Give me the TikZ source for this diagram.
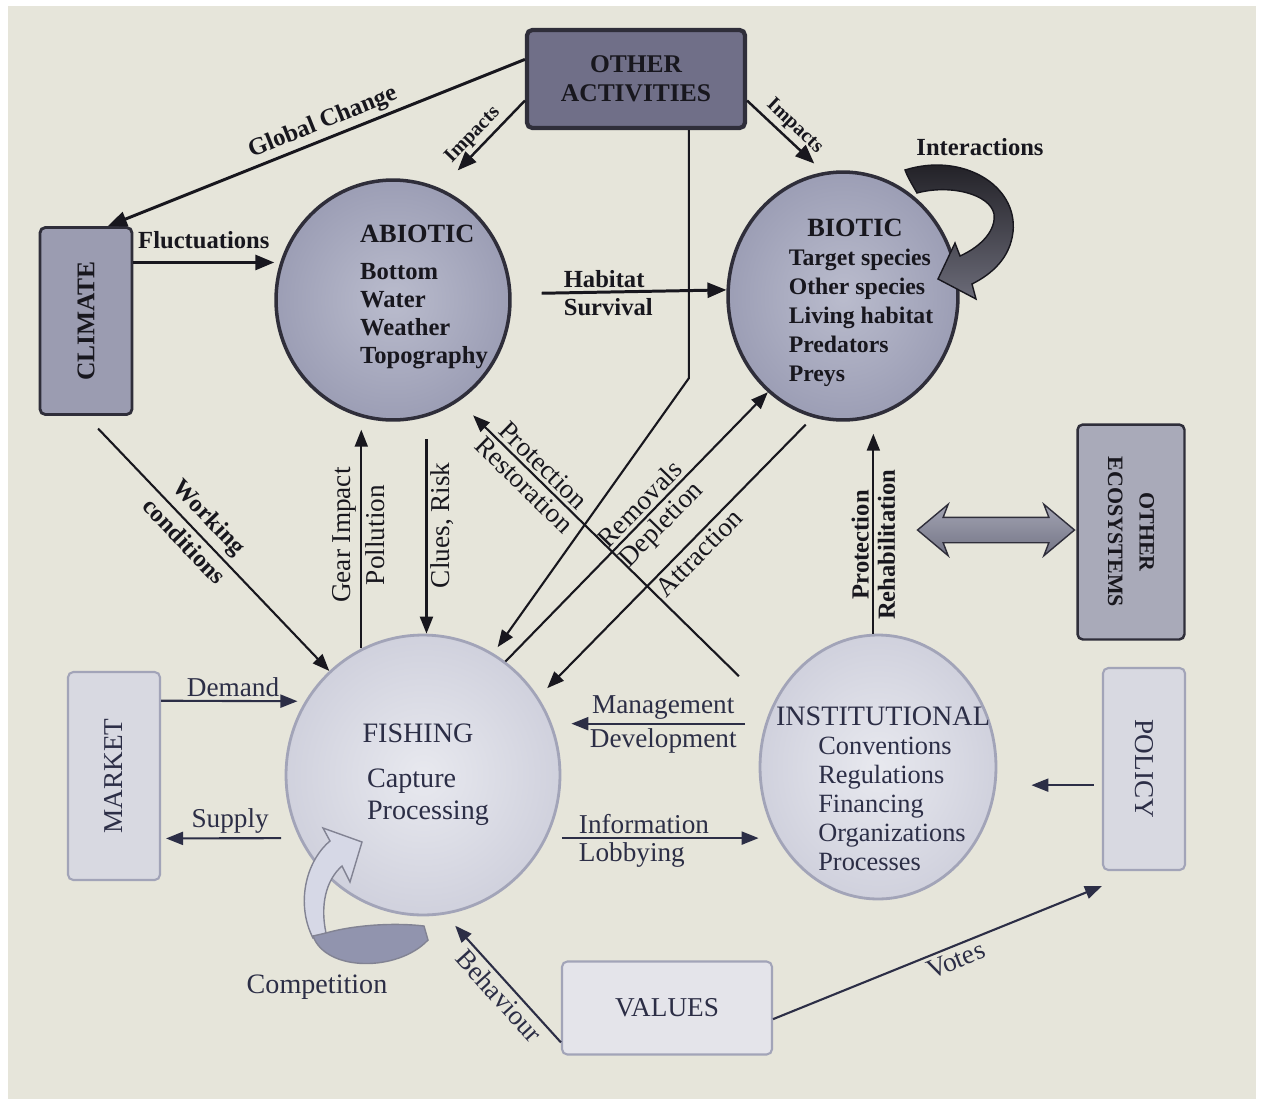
\documentclass[tikz,border=0pt]{standalone}
\usepackage{fontspec}
\setmainfont{Liberation Serif}
\usetikzlibrary{arrows.meta,shapes.geometric,shapes.arrows}
\definecolor{Paper}{HTML}{E6E5DA}
\definecolor{Ink}{HTML}{18171E}
\definecolor{Slate}{HTML}{2C2E46}
\definecolor{BoxDark}{HTML}{706F88}
\definecolor{BoxMid}{HTML}{9B9CB1}
\definecolor{BoxGrey}{HTML}{A9AAB9}
\definecolor{BoxPale}{HTML}{D8D9E1}
\definecolor{EdgeDark}{HTML}{2F2E3A}
\definecolor{EdgePale}{HTML}{A2A4B8}
\definecolor{BallIn}{HTML}{BABCCD}
\definecolor{BallOut}{HTML}{9C9EB5}
\definecolor{PaleIn}{HTML}{E8E9EF}
\definecolor{PaleOut}{HTML}{D0D1DD}
\definecolor{CompLight}{HTML}{D6D8E6}
\definecolor{CompDark}{HTML}{9194AE}
\definecolor{LinkTop}{HTML}{A3A4B3}
\definecolor{LinkBot}{HTML}{737485}
\definecolor{LoopTop}{HTML}{1C1B20}
\definecolor{LoopBot}{HTML}{6B6B78}
\newcommand{\heavyfont}{\fontsize{14}{16}\selectfont\bfseries}
\newcommand{\plainfont}{\fontsize{15.5}{17}\selectfont}

\begin{document}
\begin{tikzpicture}[x=0.02cm,y=-0.02cm,
  bigarr/.style={Ink, line width=1.7pt, -{Triangle[length=0.38cm,width=0.3cm]}},
  midarr/.style={Ink, line width=1.2pt, -{Triangle[length=0.34cm,width=0.26cm]}},
  softarr/.style={Slate, line width=1.2pt, -{Triangle[length=0.34cm,width=0.26cm]}},
  boldlab/.style={text=Ink, font=\heavyfont, inner sep=2pt},
  darklab/.style={text=Ink, font=\plainfont, inner sep=2pt},
  softlab/.style={text=Slate, font=\plainfont, inner sep=2pt},
  sphere/.style={ellipse, inner sep=0pt},
  panel/.style={rectangle, rounded corners=3pt, inner sep=0pt}]
\fill[white] (0,0) rectangle (1261,1106);
\fill[Paper] (8,6) rectangle (1256,1099);
% the four spheres
\node[sphere, inner color=BallIn, outer color=BallOut, draw=EdgeDark, line width=2pt, minimum width=4.68cm, minimum height=4.8cm] (abiotic) at (393,300) {};
\node[sphere, inner color=BallIn, outer color=BallOut, draw=EdgeDark, line width=2pt, minimum width=4.6cm, minimum height=4.96cm] (biotic) at (843,296) {};
\node[sphere, inner color=PaleIn, outer color=PaleOut, draw=EdgePale, line width=1.6pt, minimum width=5.48cm, minimum height=5.6cm] (fishing) at (423,775) {};
\node[sphere, inner color=PaleIn, outer color=PaleOut, draw=EdgePale, line width=1.6pt, minimum width=4.72cm, minimum height=5.28cm] (institutional) at (878,767) {};
% boxes
\node[panel, fill=BoxDark, draw=EdgeDark, line width=2.4pt, minimum width=4.36cm, minimum height=1.96cm, align=center, text=Ink, font=\fontsize{14.5}{16.5}\selectfont\bfseries] (others) at (636,79) {OTHER\\ACTIVITIES};
\node[panel, fill=BoxMid, draw=EdgeDark, line width=1.6pt, minimum width=1.84cm, minimum height=3.74cm] (climate) at (86,321) {};
\node[panel, fill=BoxGrey, draw=EdgeDark, line width=1.4pt, minimum width=2.14cm, minimum height=4.3cm] (otherEco) at (1131,532) {};
\node[panel, fill=BoxPale, draw=EdgePale, line width=1.2pt, minimum width=1.64cm, minimum height=4.04cm] (policy) at (1144,769) {};
\node[panel, fill=BoxPale, draw=EdgePale, line width=1.2pt, minimum width=1.84cm, minimum height=4.16cm] (market) at (114,776) {};
\node[panel, fill=BoxPale!70!white, draw=EdgePale, line width=1.2pt, minimum width=4.2cm, minimum height=1.86cm, text=Slate, font=\fontsize{15.5}{17}\selectfont] (values) at (667,1008) {VALUES};
% texts
\node[boldlab, align=left] (abioticTxt) at (424,297) {{\fontsize{15}{16}\selectfont ABIOTIC}\\[5pt]Bottom\\Water\\Weather\\Topography};
\node[boldlab, font=\fontsize{15}{16}\selectfont\bfseries] (bioticTitle) at (855,228) {BIOTIC};
\node[boldlab, align=left, font=\fontsize{13.5}{16.5}\selectfont\bfseries] (bioticList) at (861,318) {Target species\\Other species\\Living habitat\\Predators\\Preys};
\node[softlab, font=\fontsize{16}{18}\selectfont] (fishingTitle) at (418,733) {FISHING};
\node[softlab, align=left, font=\fontsize{16}{18.5}\selectfont] (fishingList) at (428,797) {Capture\\Processing};
\node[softlab, font=\fontsize{16}{18}\selectfont] (institutionalTitle) at (883,716) {INSTITUTIONAL};
\node[softlab, align=left, font=\fontsize{15}{16.5}\selectfont] (institutionalList) at (892,804) {Conventions\\Regulations\\Financing\\Organizations\\Processes};
\node[boldlab, rotate=90, font=\fontsize{14.5}{16}\selectfont\bfseries] (climateTxt) at (climate) {CLIMATE};
\node[boldlab, rotate=-90, align=center, font=\fontsize{12.5}{18}\selectfont\bfseries] (otherEcoTxt) at (otherEco) {OTHER\\ECOSYSTEMS};
\node[softlab, rotate=-90] (policyTxt) at (policy) {POLICY};
\node[softlab, rotate=90] (marketTxt) at (market) {MARKET};
% arrows from other activities
\draw[bigarr] (others.170) -- (climate.77) node[boldlab, pos=0.47, above, sloped] {Global Change};
\draw[bigarr, line width=1.4pt, shorten >=0.5cm] (others.191) -- (abiotic.67) node[boldlab, font=\fontsize{11.5}{13}\selectfont\bfseries, midway, above, sloped] {Impacts};
\draw[bigarr, line width=1.4pt, shorten >=0.25cm] (others.-11) -- (biotic.99) node[boldlab, font=\fontsize{11.5}{13}\selectfont\bfseries, midway, above, sloped] {Impacts};
\draw[midarr, shorten >=0.15cm] (others.-44) -- ++(0,248) -- (fishing.60);
% climate
\draw[bigarr] (climate.51) -- (climate.51 -| abiotic.west) node[boldlab, midway, above=5pt] {Fluctuations};
\draw[midarr, shorten <=0.35cm] (climate.south) -- (fishing.132) node[boldlab, pos=0.45, above=1pt, sloped] {Working} node[boldlab, pos=0.45, below=1pt, sloped] {conditions};
% abiotic and biotic
\draw[bigarr, shorten <=0.6cm] (abiotic.3) -- (biotic.177) node[boldlab, pos=0.22, anchor=south west] {Habitat} node[boldlab, pos=0.22, anchor=north west] {Survival};
\draw[midarr, shorten >=0.16cm] (fishing.116) -- (fishing.116 |- abiotic.south) node[darklab, midway, rotate=90, anchor=south] {Gear Impact} node[darklab, midway, rotate=90, anchor=north] {Pollution};
\draw[midarr, shorten <=0.45cm] (abiotic.-74) -- (abiotic.-74 |- fishing.north) node[darklab, midway, rotate=90, anchor=north] {Clues, Risk};
\draw[midarr] (fishing.54) -- (biotic.232) node[darklab, pos=0.55, above, sloped] {Removals} node[darklab, pos=0.55, below, sloped] {Depletion};
\draw[midarr, shorten <=0.2cm, shorten >=0.25cm] (biotic.256) -- (fishing.34) node[darklab, pos=0.45, below, sloped] {Attraction};
\draw[midarr, shorten <=0.9cm, shorten >=0.4cm] (institutional.151) -- (abiotic.-57) node[darklab, pos=0.76, above, sloped] {Protection} node[darklab, pos=0.76, below, sloped] {Restoration};
\draw[midarr, shorten >=0.24cm] (institutional.92) -- (institutional.92 |- biotic.south) node[boldlab, pos=0.42, rotate=90, anchor=south] {Protection} node[boldlab, pos=0.42, rotate=90, anchor=north] {Rehabilitation};
% link to other ecosystems
\node[double arrow, top color=LinkTop, bottom color=LinkBot, draw=EdgeDark, line width=0.8pt, double arrow head extend=0.26cm, double arrow head indent=0.1cm, double arrow tip angle=80, minimum height=3.14cm, inner sep=0.24cm] (ecoLink) at (996,530) {};
% fishing and institutional
\draw[softarr, shorten <=0.4cm, shorten >=0.2cm] (institutional.159) -- (institutional.159 -| fishing.east) node[softlab, midway, above] {Management} node[softlab, midway, below] {Development};
\draw[softarr, shorten <=0.3cm] (fishing.-27) -- (fishing.-27 -| institutional.west) node[softlab, pos=0.13, anchor=south west] {Information} node[softlab, pos=0.13, anchor=north west] {Lobbying};
\draw[softarr, shorten >=0.15cm] (market.58) -- (fishing.148) node[softlab, midway, above] {Demand};
\draw[softarr, shorten <=0.36cm, shorten >=0.1cm] (fishing.207) -- (market.-53) node[softlab, midway, above] {Supply};
\draw[softarr, shorten <=0.16cm, shorten >=0.68cm] (policy.201) -- (policy.201 -| institutional.east);
\draw[softarr] (values.-6) -- ([yshift=-0.3cm]policy.south west) node[softlab, pos=0.54, below, sloped] {Votes};
\draw[softarr, shorten >=0.3cm] (values.198) -- (fishing.-81) node[softlab, pos=0.44, below, sloped] {Behaviour};
% interactions loop
\shade[top color=LoopTop, bottom color=LoopBot, draw=Ink, line width=0.8pt]
  (905,170) .. controls (962,152) and (1018,185) .. (1013,232)
  .. controls (1010,258) and (992,274) .. (972,284)
  -- (976,299) -- (938,279) -- (955,243) -- (960,256)
  .. controls (982,246) and (996,230) .. (994,214)
  .. controls (990,194) and (950,184) .. (917,193)
  .. controls (913,186) and (908,178) .. (905,170) -- cycle;
\node[boldlab] (interLab) at (980,147) {Interactions};
% competition loop
\filldraw[fill=CompLight, draw=EdgePale!80!black, line width=0.8pt]
  (313,938) .. controls (296,905) and (305,862) .. (330,841)
  -- (323,828) -- (362,842) -- (350,882) -- (342,866)
  .. controls (326,880) and (320,905) .. (326,933) -- cycle;
\filldraw[fill=CompDark, draw=EdgePale!80!black, line width=0.8pt]
  (313,936) .. controls (326,972) and (398,972) .. (428,940)
  -- (424,926) .. controls (390,922) and (350,926) .. (326,933) -- cycle;
\node[softlab, font=\fontsize{16}{18}\selectfont] (compLab) at (317,987) {Competition};
\end{tikzpicture}
\end{document}
